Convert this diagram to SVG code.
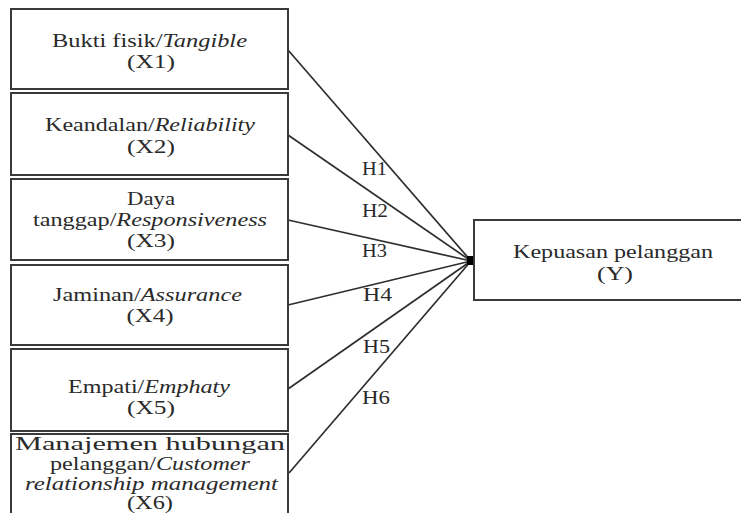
<svg xmlns="http://www.w3.org/2000/svg" width="741" height="513" viewBox="0 0 741 513">
<style>
.box{fill:#fff;stroke:#3a3a3a;stroke-width:2}
.t{font-family:"Liberation Serif","Times New Roman",Times,serif;font-size:19px;fill:#2a2a2a;text-anchor:middle}
.i{font-style:italic}
.c{stroke:#2e2e2e;stroke-width:1.7;fill:none}
</style>
<rect width="741" height="513" fill="#fff"/>
<g id="connectors">
<line class="c" x1="288" y1="50" x2="471" y2="261"/>
<line class="c" x1="288" y1="135" x2="471" y2="261"/>
<line class="c" x1="288" y1="220" x2="471" y2="261"/>
<line class="c" x1="288" y1="305" x2="471" y2="261"/>
<line class="c" x1="288" y1="389" x2="471" y2="261"/>
<line class="c" x1="289" y1="473" x2="471" y2="261"/>
<rect x="467" y="256" width="7" height="9" fill="#000"/>
<text class="t" x="374.5" y="175" textLength="25" lengthAdjust="spacingAndGlyphs">H1</text>
<text class="t" x="375" y="217" textLength="26" lengthAdjust="spacingAndGlyphs">H2</text>
<text class="t" x="374.5" y="257" textLength="25" lengthAdjust="spacingAndGlyphs">H3</text>
<text class="t" x="377.5" y="301" textLength="29" lengthAdjust="spacingAndGlyphs">H4</text>
<text class="t" x="376.5" y="353" textLength="27" lengthAdjust="spacingAndGlyphs">H5</text>
<text class="t" x="376" y="404" textLength="28" lengthAdjust="spacingAndGlyphs">H6</text>
</g>
<g id="x1">
<rect class="box" x="11" y="9" width="277" height="80"/>
<text class="t" x="149.5" y="47" textLength="195" lengthAdjust="spacingAndGlyphs">Bukti fisik/<tspan class="i">Tangible</tspan></text>
<text class="t" x="151" y="68" textLength="48" lengthAdjust="spacingAndGlyphs">(X1)</text>
</g>
<g id="x2">
<rect class="box" x="11" y="93" width="277" height="82"/>
<text class="t" x="150" y="131" textLength="210" lengthAdjust="spacingAndGlyphs">Keandalan/<tspan class="i">Reliability</tspan></text>
<text class="t" x="151" y="153" textLength="48" lengthAdjust="spacingAndGlyphs">(X2)</text>
</g>
<g id="x3">
<rect class="box" x="11" y="179" width="277" height="81"/>
<text class="t" x="151" y="205" textLength="48" lengthAdjust="spacingAndGlyphs">Daya</text>
<text class="t" x="150" y="226" textLength="234" lengthAdjust="spacingAndGlyphs">tanggap/<tspan class="i">Responsiveness</tspan></text>
<text class="t" x="151" y="247" textLength="48" lengthAdjust="spacingAndGlyphs">(X3)</text>
</g>
<g id="x4">
<rect class="box" x="11" y="265" width="277" height="80"/>
<text class="t" x="147.5" y="301" textLength="189" lengthAdjust="spacingAndGlyphs">Jaminan/<tspan class="i">Assurance</tspan></text>
<text class="t" x="150" y="322" textLength="47" lengthAdjust="spacingAndGlyphs">(X4)</text>
</g>
<g id="x5">
<rect class="box" x="11" y="349" width="277" height="82"/>
<text class="t" x="149" y="393" textLength="162" lengthAdjust="spacingAndGlyphs">Empati/<tspan class="i">Emphaty</tspan></text>
<text class="t" x="151" y="414" textLength="48" lengthAdjust="spacingAndGlyphs">(X5)</text>
</g>
<g id="x6">
<rect class="box" x="11" y="434" width="277" height="90"/>
<text class="t" x="150" y="450" textLength="270" lengthAdjust="spacingAndGlyphs">Manajemen hubungan</text>
<text class="t" x="150" y="470" textLength="200" lengthAdjust="spacingAndGlyphs">pelanggan/<tspan class="i">Customer</tspan></text>
<text class="t i" x="151.5" y="490" textLength="253" lengthAdjust="spacingAndGlyphs">relationship management</text>
<text class="t" x="150" y="509" textLength="46" lengthAdjust="spacingAndGlyphs">(X6)</text>
</g>
<g id="y">
<rect class="box" x="474" y="220" width="275" height="80"/>
<text class="t" x="613" y="258" textLength="200" lengthAdjust="spacingAndGlyphs">Kepuasan pelanggan</text>
<text class="t" x="615" y="280" textLength="36" lengthAdjust="spacingAndGlyphs">(Y)</text>
</g>
</svg>
